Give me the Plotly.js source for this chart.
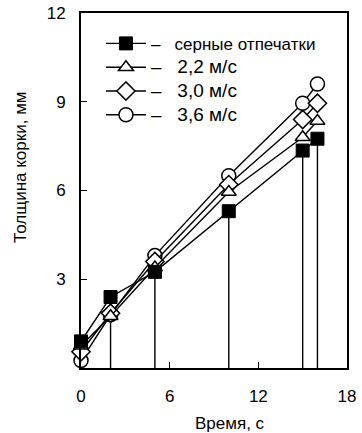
<!DOCTYPE html>
<html>
<head>
<meta charset="utf-8">
<script src="https://cdn.plot.ly/plotly-3.0.1.min.js"></script>
<style>html,body{margin:0;padding:0;background:#fff;}#chart{width:362px;height:433px;}</style>
</head>
<body>
<div id="chart"></div>
<script>
// Data
const time = [0, 2, 5, 10, 15, 16];
const sulfurPrints = [0.9, 2.4, 3.25, 5.3, 7.35, 7.75];
const v22 = [0.75, 1.75, 3.4, 5.95, 7.8, 8.35];
const v30 = [0.55, 1.85, 3.6, 6.2, 8.4, 8.95];
const v36 = [0.25, 1.8, 3.8, 6.5, 8.95, 9.6];
const seriesNames = ['серные отпечатки', '2,2 м/с', '3,0 м/с', '3,6 м/с'];
const xTicks = [0, 6, 12, 18];
const yTicks = [3, 6, 9, 12];

const NB = '\u00A0';
function legendLabel(name, size) {
  return '<span style="font-size:' + size + 'px">' + '–' + NB + NB + NB + name + '</span>';
}

// drop lines from the sulfur-print points to the axis
const dropX = [], dropY = [];
for (let i = 1; i < time.length; i++) {
  dropX.push(time[i], time[i], null);
  dropY.push(0, sulfurPrints[i], null);
}

const lineStyle = {color: '#000', width: 1.4};
const traces = [
  {x: dropX, y: dropY, mode: 'lines', line: lineStyle, showlegend: false, hoverinfo: 'skip'},
  {x: time, y: v36, name: legendLabel(seriesNames[3], 19), mode: 'lines+markers', line: lineStyle, cliponaxis: false,
   marker: {symbol: 'circle', size: 14, color: '#fff', line: {color: '#000', width: 1.5}}},
  {x: time, y: v30, name: legendLabel(seriesNames[2], 19), mode: 'lines+markers', line: lineStyle, cliponaxis: false,
   marker: {symbol: 'diamond', size: 14, color: '#fff', line: {color: '#000', width: 1.5}}},
  {x: time, y: v22, name: legendLabel(seriesNames[1], 19), mode: 'lines+markers', line: lineStyle, cliponaxis: false,
   marker: {symbol: 'triangle-up', size: 13, color: '#fff', line: {color: '#000', width: 1.5}}},
  {x: time, y: sulfurPrints, name: legendLabel(seriesNames[0], 17), mode: 'lines+markers', line: lineStyle, cliponaxis: false,
   marker: {symbol: 'square', size: 13, color: '#000', line: {color: '#000', width: 1}}}
];

const axisCommon = {
  showgrid: false, zeroline: false, showline: true, linecolor: '#000', linewidth: 2,
  mirror: true, ticks: 'inside', ticklen: 6, tickwidth: 1.3, tickcolor: '#000',
  tickfont: {family: 'Liberation Sans, Arial, sans-serif', size: 17, color: '#000'}
};

const layout = {
  width: 362, height: 433,
  margin: {l: 81, r: 15, t: 13, b: 65},
  paper_bgcolor: '#fff', plot_bgcolor: '#fff',
  font: {family: 'Liberation Sans, Arial, sans-serif', color: '#000'},
  xaxis: Object.assign({}, axisCommon, {range: [0, 18], tickvals: xTicks, ticklabelstandoff: 12}),
  yaxis: Object.assign({}, axisCommon, {range: [0, 12], tickvals: yTicks, ticklabelstandoff: 10}),
  legend: {
    x: 0.075, y: 0.962, xanchor: 'left', yanchor: 'top',
    traceorder: 'reversed', bgcolor: 'rgba(0,0,0,0)',
    font: {family: 'Liberation Sans, Arial, sans-serif', size: 16, color: '#000'},
    itemwidth: 40, tracegroupgap: 0
  },
  annotations: [
    {text: 'Толщина корки, мм', textangle: -90, xref: 'paper', yref: 'paper',
     x: -0.23, y: 0.566, xanchor: 'center', yanchor: 'middle', showarrow: false,
     font: {family: 'Liberation Sans, Arial, sans-serif', size: 17, color: '#000'}},
    {text: 'Время, с', xref: 'paper', yref: 'paper',
     x: 0.56, y: -0.155, xanchor: 'center', yanchor: 'middle', showarrow: false,
     font: {family: 'Liberation Sans, Arial, sans-serif', size: 17, color: '#000'}}
  ]
};

Plotly.newPlot('chart', traces, layout, {displayModeBar: false, staticPlot: true});
</script>
</body>
</html>
